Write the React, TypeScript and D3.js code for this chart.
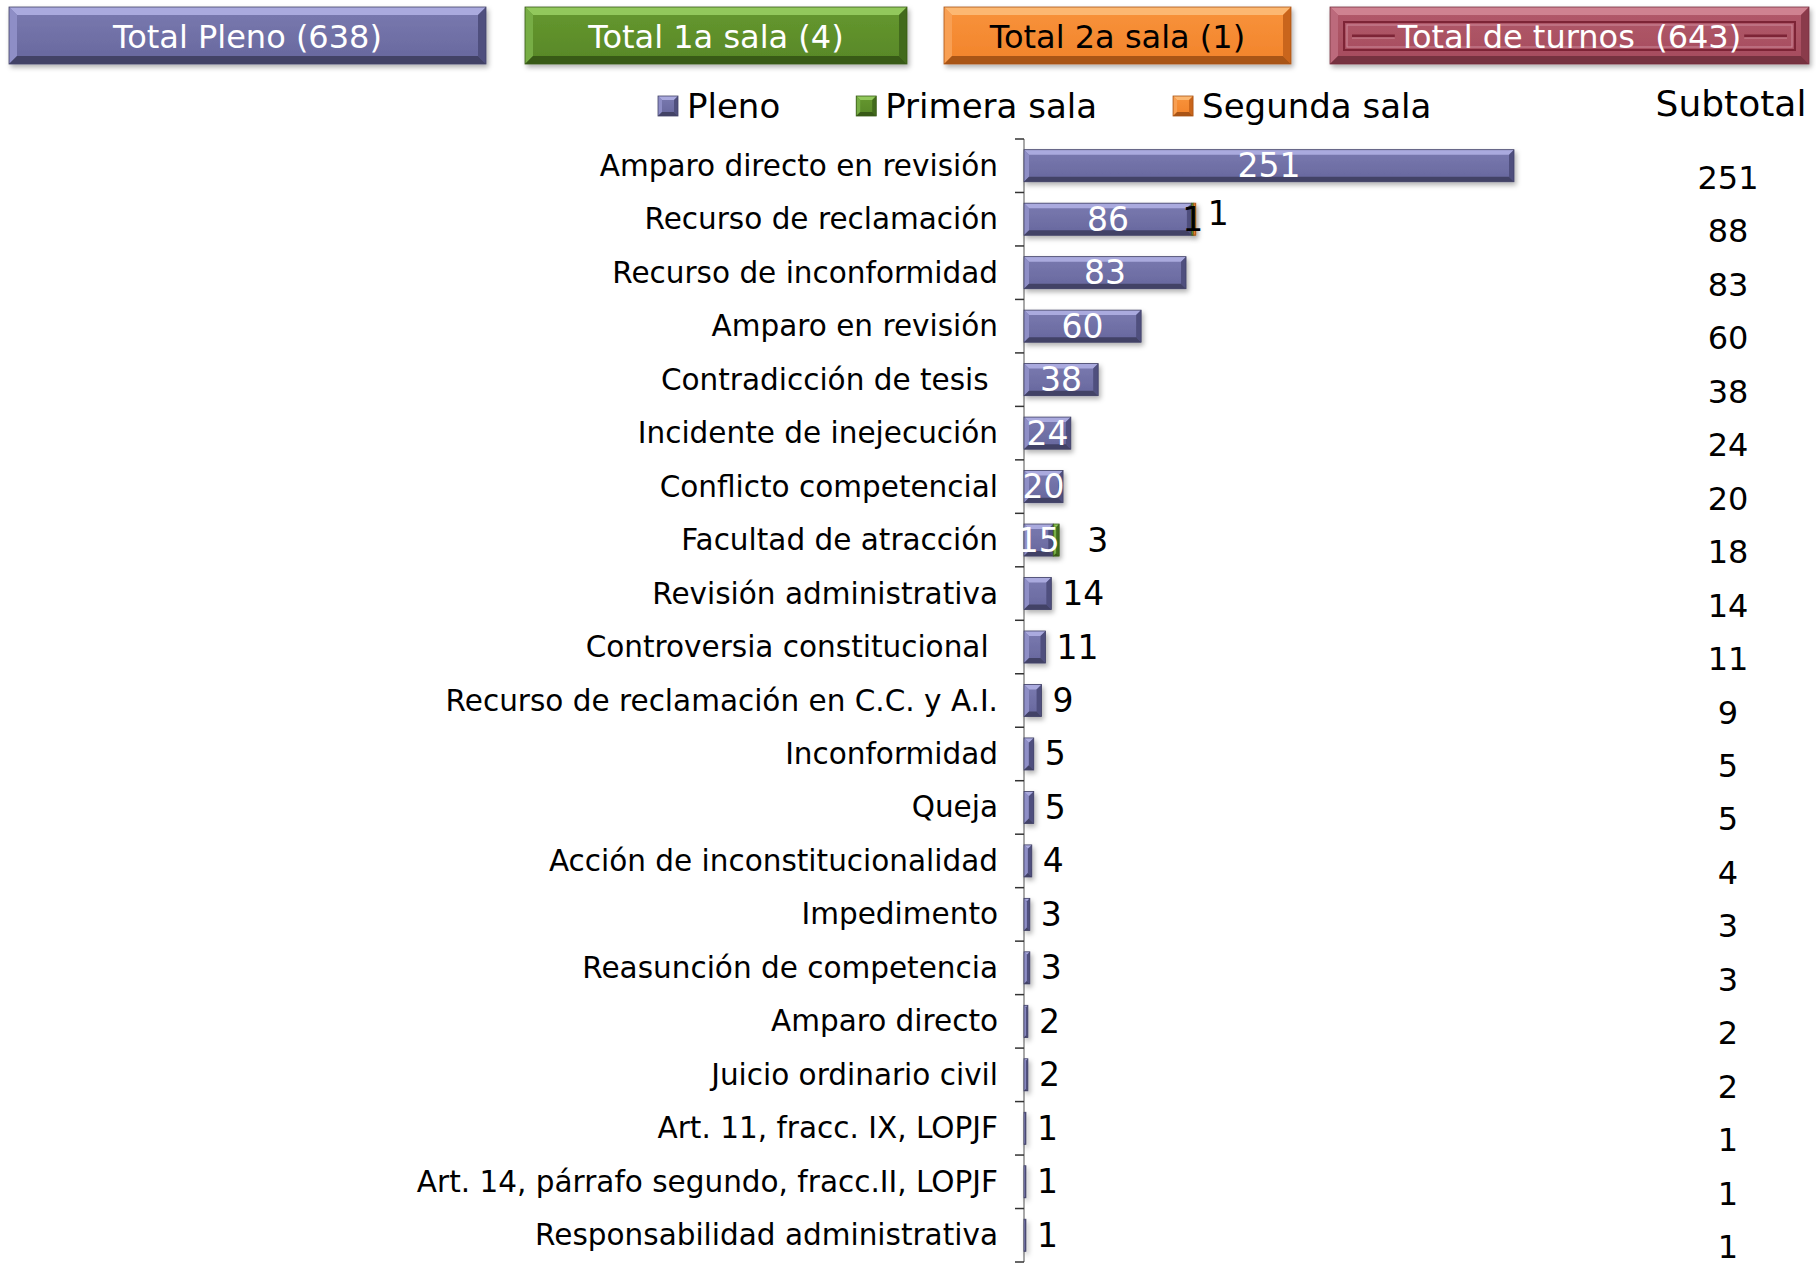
import React, { useEffect, useRef } from 'react';
import * as d3 from 'd3';

// categories, top to bottom
const categories = [
  'Amparo directo en revisión',
  'Recurso de reclamación',
  'Recurso de inconformidad',
  'Amparo en revisión',
  'Contradicción de tesis ',
  'Incidente de inejecución',
  'Conflicto competencial',
  'Facultad de atracción',
  'Revisión administrativa',
  'Controversia constitucional ',
  'Recurso de reclamación en C.C. y A.I.',
  'Inconformidad',
  'Queja',
  'Acción de inconstitucionalidad',
  'Impedimento',
  'Reasunción de competencia',
  'Amparo directo',
  'Juicio ordinario civil',
  'Art. 11, fracc. IX, LOPJF',
  'Art. 14, párrafo segundo, fracc.II, LOPJF',
  'Responsabilidad administrativa',
];

const pleno = [251, 86, 83, 60, 38, 24, 20, 15, 14, 11, 9, 5, 5, 4, 3, 3, 2, 2, 1, 1, 1];
const primeraSala = [0, 1, 0, 0, 0, 0, 0, 3, 0, 0, 0, 0, 0, 0, 0, 0, 0, 0, 0, 0, 0];
const segundaSala = [0, 1, 0, 0, 0, 0, 0, 0, 0, 0, 0, 0, 0, 0, 0, 0, 0, 0, 0, 0, 0];

const seriesKeys = ['pleno', 'primera', 'segunda'];
const seriesNames = ['Pleno', 'Primera sala', 'Segunda sala'];

const W = 1816;
const H = 1263;

const colors: any = {
  pleno: { faceTop: '#7a7ab0', face: '#67679d', light: '#aaaade', left: '#8e8ec6', right: '#50507e', dark: '#434366' },
  primera: { faceTop: '#66982f', face: '#578727', light: '#92c85c', left: '#77ad45', right: '#426b1c', dark: '#385a17' },
  segunda: { faceTop: '#f8933c', face: '#f2832a', light: '#fcb872', left: '#f89f52', right: '#c9651b', dark: '#a95416' },
  turnos: { faceTop: '#b25a6b', face: '#a54b5d', light: '#cf8291', left: '#bc6a7b', right: '#8a3a4b', dark: '#76303f' },
};

const FONT = "'DejaVu Sans', Verdana, sans-serif";

// bevelled box like the Office shape style
function bevel(g: any, x: number, y: number, w: number, h: number, b: number, c: any, gradId: string) {
  const grp = g.append('g');
  grp.append('rect').attr('x', x).attr('y', y).attr('width', w).attr('height', h).attr('fill', `url(#${gradId})`);
  const poly = (pts: number[][], fill: string) =>
    grp.append('polygon').attr('points', pts.map(p => p.join(',')).join(' ')).attr('fill', fill);
  poly([[x, y], [x + w, y], [x + w - b, y + b], [x + b, y + b]], c.light);
  poly([[x, y], [x + b, y + b], [x + b, y + h - b], [x, y + h]], c.left);
  poly([[x + w, y], [x + w, y + h], [x + w - b, y + h - b], [x + w - b, y + b]], c.right);
  poly([[x, y + h], [x + b, y + h - b], [x + w - b, y + h - b], [x + w, y + h]], c.dark);
  grp.append('rect').attr('x', x).attr('y', y).attr('width', w).attr('height', h)
    .attr('fill', 'none').attr('stroke', c.dark).attr('stroke-width', 0.8);
  return grp;
}

export default function App() {
  const ref = useRef<SVGSVGElement>(null);

  useEffect(() => {
    document.body.style.margin = '0';
    document.body.style.overflow = 'hidden';
    const svg = d3.select(ref.current);
    svg.selectAll('*').remove();

    const defs = svg.append('defs');
    const f = defs.append('filter').attr('id', 'shadow').attr('filterUnits', 'userSpaceOnUse')
      .attr('x', 0).attr('y', 0).attr('width', W).attr('height', H);
    f.append('feDropShadow').attr('dx', 2).attr('dy', 3).attr('stdDeviation', 2.5)
      .attr('flood-color', '#000').attr('flood-opacity', 0.3);
    Object.keys(colors).forEach(k => {
      const lg = defs.append('linearGradient').attr('id', 'g-' + k).attr('x1', 0).attr('y1', 0).attr('x2', 0).attr('y2', 1);
      lg.append('stop').attr('offset', '0%').attr('stop-color', colors[k].faceTop);
      lg.append('stop').attr('offset', '100%').attr('stop-color', colors[k].face);
    });

    const rows = categories.map((c, i) => ({ cat: c, pleno: pleno[i], primera: primeraSala[i], segunda: segundaSala[i] }));
    const totals = rows.map(r => r.pleno + r.primera + r.segunda);
    const stacked = d3.stack<any>().keys(seriesKeys)(rows);

    // header buttons
    const headers = [
      { key: 'pleno', text: `Total Pleno (${d3.sum(pleno)})`, x0: 9, x1: 486, fill: '#fff' },
      { key: 'primera', text: `Total 1a sala (${d3.sum(primeraSala)})`, x0: 525, x1: 907, fill: '#fff' },
      { key: 'segunda', text: `Total 2a sala (${d3.sum(segundaSala)})`, x0: 944, x1: 1291, fill: '#000' },
      { key: 'turnos', text: `Total de turnos  (${d3.sum(totals)})`, x0: 1330, x1: 1809, fill: '#fff' },
    ];
    const hy0 = 7, hy1 = 64;
    headers.forEach(hd => {
      const g = svg.append('g');
      bevel(g, hd.x0, hy0, hd.x1 - hd.x0, hy1 - hy0, 8, colors[hd.key], 'g-' + hd.key).attr('filter', 'url(#shadow)');
      const cx = (hd.x0 + hd.x1) / 2, cy = (hy0 + hy1) / 2 + 1;
      const t = g.append('text').attr('x', cx).attr('y', cy).attr('text-anchor', 'middle')
        .attr('dominant-baseline', 'central').attr('font-family', FONT)
        .attr('font-size', 32).attr('fill', hd.fill).style('white-space', 'pre').text(hd.text);
      if (hd.key === 'turnos') {
        const fx0 = hd.x0 + 14, fx1 = hd.x1 - 14, fy0 = hy0 + 15, fy1 = hy1 - 14;
        g.insert('rect', 'text').attr('x', fx0).attr('y', fy0).attr('width', fx1 - fx0).attr('height', fy1 - fy0)
          .attr('fill', 'none').attr('stroke', '#7d2436').attr('stroke-width', 2);
        g.insert('rect', 'text').attr('x', fx0 + 3).attr('y', fy0 + 3).attr('width', fx1 - fx0 - 6).attr('height', fy1 - fy0 - 6)
          .attr('fill', 'none').attr('stroke', '#c98393').attr('stroke-width', 1.2);
        const tw = (t.node() as SVGTextElement).getComputedTextLength();
        const ly = (fy0 + fy1) / 2;
        [[fx0 + 8, cx - tw / 2 - 3], [cx + tw / 2 + 3, fx1 - 8]].forEach(([a, b]) => {
          g.insert('line', 'text').attr('x1', a).attr('x2', b).attr('y1', ly).attr('y2', ly)
            .attr('stroke', '#7d2436').attr('stroke-width', 3);
          g.insert('line', 'text').attr('x1', a).attr('x2', b).attr('y1', ly + 2).attr('y2', ly + 2)
            .attr('stroke', '#d08c9a').attr('stroke-width', 1);
        });
      }
    });

    // legend
    let lx = 658;
    const ly = 106;
    seriesKeys.forEach((k, i) => {
      bevel(svg, lx, ly - 10, 20, 20, 4, colors[k], 'g-' + k);
      const t = svg.append('text').attr('x', lx + 29).attr('y', ly).attr('dominant-baseline', 'central')
        .attr('font-family', FONT).attr('font-size', 34).attr('fill', '#000').text(seriesNames[i]);
      lx += 29 + (t.node() as SVGTextElement).getComputedTextLength() + 76;
    });

    svg.append('text').attr('x', 1731).attr('y', 103).attr('text-anchor', 'middle').attr('dominant-baseline', 'central')
      .attr('font-family', FONT).attr('font-size', 36).attr('fill', '#000').text('Subtotal');

    // scales
    const axisX = 1024;
    const x = d3.scaleLinear().domain([0, d3.max(totals) as number]).range([axisX, 1514]);
    const y = d3.scaleBand().domain(categories).range([139, 1262]).paddingInner(0.4).paddingOuter(0.2);

    // category axis
    const ax = svg.append('g');
    ax.append('line').attr('x1', axisX).attr('x2', axisX).attr('y1', 139).attr('y2', 1262)
      .attr('stroke', '#8c8c8c').attr('stroke-width', 1.5);
    d3.range(categories.length + 1).forEach(k => {
      const ty = 139 + k * y.step();
      ax.append('line').attr('x1', axisX - 9).attr('x2', axisX).attr('y1', ty).attr('y2', ty)
        .attr('stroke', '#333').attr('stroke-width', 1.5);
    });
    categories.forEach(c => {
      ax.append('text').attr('x', 998).attr('y', (y(c) as number) + y.bandwidth() / 2)
        .attr('text-anchor', 'end').attr('dominant-baseline', 'central').style('white-space', 'pre')
        .attr('font-family', FONT).attr('font-size', 29.5).attr('fill', '#000').text(c);
    });

    // bars
    const bars = svg.append('g');
    stacked.forEach(layer => {
      const k = layer.key;
      layer.forEach((d: any) => {
        const v = d[1] - d[0];
        if (v <= 0) return;
        const bx = x(d[0]), bw = x(d[1]) - x(d[0]);
        const by = y(d.data.cat) as number, bh = y.bandwidth();
        const b = Math.min(5, bw / 2, bh / 2);
        bevel(bars, bx, by, bw, bh, b, colors[k], 'g-' + k).attr('filter', 'url(#shadow)');
      });
    });

    // data labels
    const gap: any = { pleno: 11, primera: 28, segunda: 12 };
    const labels = svg.append('g').attr('font-family', FONT).attr('font-size', 33);
    stacked.forEach(layer => {
      const k = layer.key;
      layer.forEach((d: any, i: number) => {
        const v = d[1] - d[0];
        if (v <= 0) return;
        let cy = (y(d.data.cat) as number) + y.bandwidth() / 2;
        const isLast = d[1] === totals[i];
        let tx: number, anchor: string, fill: string;
        if (k === 'pleno' && v >= 15) {
          tx = (x(d[0]) + x(d[1])) / 2; anchor = 'middle'; fill = '#fff';
        } else if (!isLast) {
          tx = (x(d[0]) + x(d[1])) / 2; anchor = 'middle'; fill = '#000';
        } else {
          tx = x(d[1]) + gap[k]; anchor = 'start'; fill = '#000';
          if (k === 'segunda') cy -= 6;
        }
        labels.append('text').attr('x', tx).attr('y', cy).attr('text-anchor', anchor)
          .attr('dominant-baseline', 'central').attr('fill', fill).text(v);
      });
    });

    // subtotals
    const sub = svg.append('g').attr('font-family', FONT).attr('font-size', 32);
    categories.forEach((c, i) => {
      sub.append('text').attr('x', 1728).attr('y', (y(c) as number) + y.bandwidth() / 2 + 12)
        .attr('text-anchor', 'middle').attr('dominant-baseline', 'central').attr('fill', '#000').text(totals[i]);
    });
  }, []);

  return (
    <svg ref={ref} width={W} height={H} style={{ position: 'absolute', left: 0, top: 0, background: '#fff' }} />
  );
}
